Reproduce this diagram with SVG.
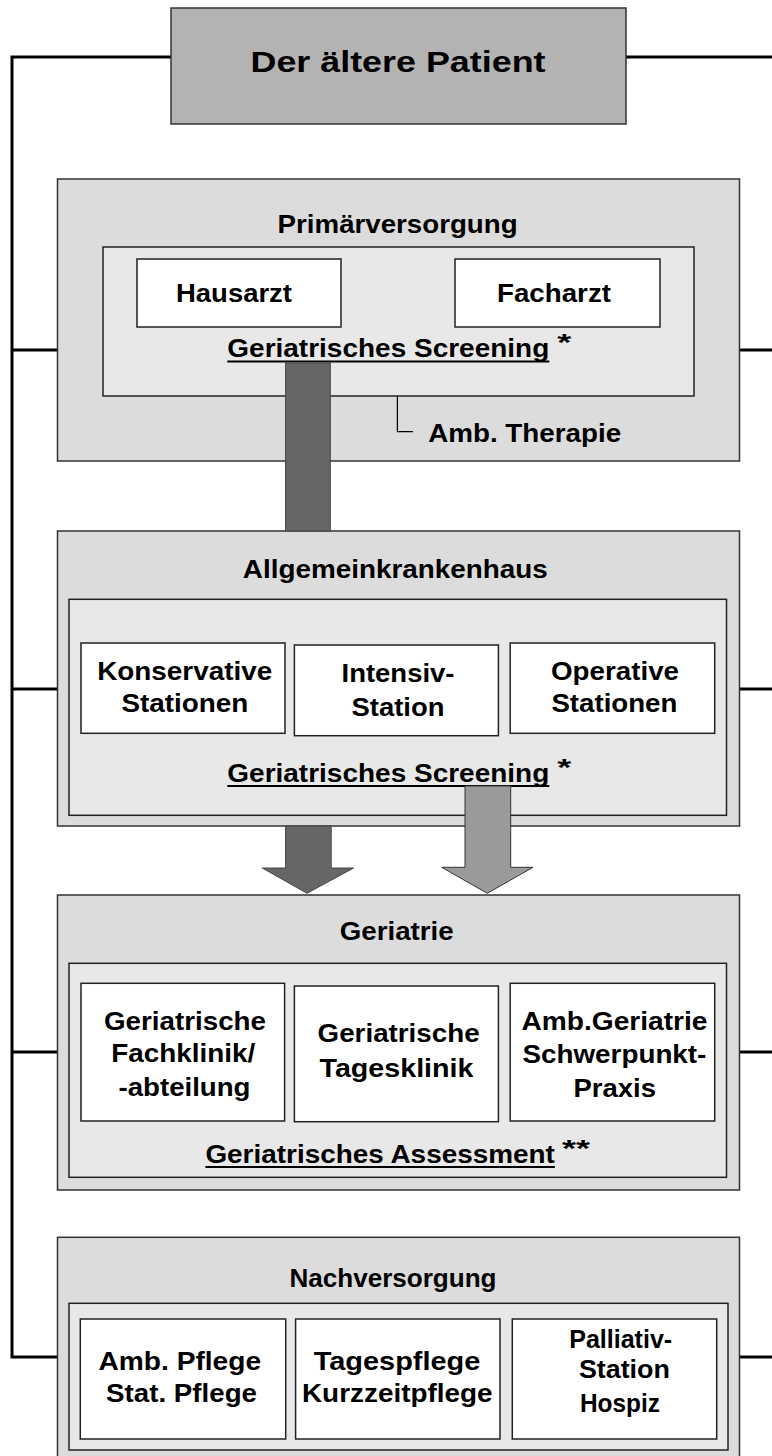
<svg xmlns="http://www.w3.org/2000/svg" width="772" height="1456" viewBox="0 0 772 1456">
<style>
.t{font-family:"Liberation Sans",Arial,sans-serif;font-weight:bold;font-size:26.5px;fill:#000;text-anchor:middle}
.s{text-anchor:start}
.ttl{font-size:30px}
.star{font-size:24px;text-anchor:start}
.top{fill:#b3b3b3;stroke:#333;stroke-width:1.5}
.outer{fill:#dcdcdc;stroke:#333;stroke-width:1.5}
.inner{fill:#e8e8e8;stroke:#222;stroke-width:1.5}
.cell{fill:#fff;stroke:#222;stroke-width:1.5}
.wire{fill:none;stroke:#000;stroke-width:3;stroke-linejoin:miter}
.thin{fill:none;stroke:#000;stroke-width:1.2}
.ul{stroke:#000;stroke-width:2}
.dark{fill:#666;stroke:#444;stroke-width:1}
.light{fill:#9a9a9a;stroke:#333;stroke-width:1}
</style>
<rect width="772" height="1456" fill="#fff"/>

<g id="connectors-lines">
<path class="wire" d="M171,57 H12 V1357 H57"/>
<path class="wire" d="M626,57 H772"/>
<path class="wire" d="M12,350 H57 M12,689 H57 M12,1052 H57"/>
<path class="wire" d="M739,350 H772 M739,689 H772 M739,1052 H772 M739,1357 H772"/>
</g>

<g id="patient">
<rect class="top" x="171" y="8" width="455" height="116"/>
<text class="t ttl" x="398" y="72" textLength="295" lengthAdjust="spacingAndGlyphs">Der ältere Patient</text>
</g>

<g id="primaerversorgung">
<rect class="outer" x="57.5" y="179" width="682" height="282"/>
<text class="t" x="397.6" y="233" textLength="240" lengthAdjust="spacingAndGlyphs">Primärversorgung</text>
<rect class="inner" x="103" y="247" width="591" height="149"/>
<g id="hausarzt">
<rect class="cell" x="137" y="259" width="204" height="68"/>
<text class="t" x="234" y="302" textLength="116" lengthAdjust="spacingAndGlyphs">Hausarzt</text>
</g>
<g id="facharzt">
<rect class="cell" x="455" y="259" width="205" height="68"/>
<text class="t" x="554" y="302" textLength="114" lengthAdjust="spacingAndGlyphs">Facharzt</text>
</g>
<text class="t s" x="227.3" y="357" textLength="322" lengthAdjust="spacingAndGlyphs">Geriatrisches Screening</text>
<line class="ul" x1="227.3" y1="361.5" x2="549.3" y2="361.5"/>
<text class="t star" x="557.3" y="351" textLength="14" lengthAdjust="spacingAndGlyphs">*</text>
<text class="t s" x="428.2" y="441.7" textLength="193" lengthAdjust="spacingAndGlyphs">Amb. Therapie</text>
</g>

<g id="allgemeinkrankenhaus">
<rect class="outer" x="57.5" y="531" width="682" height="295"/>
<text class="t" x="395.3" y="578.3" textLength="305" lengthAdjust="spacingAndGlyphs">Allgemeinkrankenhaus</text>
<rect class="inner" x="69" y="599.3" width="657.5" height="216"/>
<g id="konservative">
<rect class="cell" x="81" y="643" width="204" height="90.3"/>
<text class="t" x="184.7" y="680" textLength="175" lengthAdjust="spacingAndGlyphs">Konservative</text>
<text class="t" x="184.9" y="711.7" textLength="127" lengthAdjust="spacingAndGlyphs">Stationen</text>
</g>
<g id="intensiv">
<rect class="cell" x="294.4" y="645" width="204" height="90.7"/>
<text class="t" x="398" y="682.3" textLength="113" lengthAdjust="spacingAndGlyphs">Intensiv-</text>
<text class="t" x="398" y="716" textLength="93" lengthAdjust="spacingAndGlyphs">Station</text>
</g>
<g id="operative">
<rect class="cell" x="510.2" y="643" width="204.5" height="90.3"/>
<text class="t" x="615" y="680" textLength="128" lengthAdjust="spacingAndGlyphs">Operative</text>
<text class="t" x="614.4" y="711.7" textLength="126" lengthAdjust="spacingAndGlyphs">Stationen</text>
</g>
<text class="t s" x="227.3" y="781.7" textLength="322" lengthAdjust="spacingAndGlyphs">Geriatrisches Screening</text>
<line class="ul" x1="227.3" y1="786" x2="549.3" y2="786"/>
<text class="t star" x="557.3" y="776" textLength="14" lengthAdjust="spacingAndGlyphs">*</text>
</g>

<g id="geriatrie">
<rect class="outer" x="57.5" y="895" width="682" height="295"/>
<text class="t" x="396.7" y="940" textLength="114" lengthAdjust="spacingAndGlyphs">Geriatrie</text>
<rect class="inner" x="69" y="963.3" width="657.5" height="214"/>
<g id="fachklinik">
<rect class="cell" x="81" y="983.3" width="203.6" height="137.7"/>
<text class="t" x="185" y="1030" textLength="162" lengthAdjust="spacingAndGlyphs">Geriatrische</text>
<text class="t" x="183.3" y="1062" textLength="144" lengthAdjust="spacingAndGlyphs">Fachklinik/</text>
<text class="t" x="184.5" y="1096" textLength="132" lengthAdjust="spacingAndGlyphs">-abteilung</text>
</g>
<g id="tagesklinik">
<rect class="cell" x="294.4" y="986" width="204" height="135.7"/>
<text class="t" x="398.6" y="1042.3" textLength="162" lengthAdjust="spacingAndGlyphs">Geriatrische</text>
<text class="t" x="396.5" y="1076.7" textLength="154" lengthAdjust="spacingAndGlyphs">Tagesklinik</text>
</g>
<g id="schwerpunktpraxis">
<rect class="cell" x="510.2" y="983.3" width="204.5" height="137.7"/>
<text class="t" x="614.5" y="1030" textLength="186" lengthAdjust="spacingAndGlyphs">Amb.Geriatrie</text>
<text class="t" x="614.4" y="1063.3" textLength="184" lengthAdjust="spacingAndGlyphs">Schwerpunkt-</text>
<text class="t" x="614.8" y="1096.7" textLength="82.5" lengthAdjust="spacingAndGlyphs">Praxis</text>
</g>
<text class="t s" x="205.4" y="1163" textLength="349.5" lengthAdjust="spacingAndGlyphs">Geriatrisches Assessment</text>
<line class="ul" x1="205.4" y1="1167" x2="554.9" y2="1167"/>
<text class="t star" x="562" y="1157" textLength="28" lengthAdjust="spacingAndGlyphs">**</text>
</g>

<g id="nachversorgung">
<rect class="outer" x="57.5" y="1237.3" width="682" height="230"/>
<text class="t" x="393" y="1287" textLength="207" lengthAdjust="spacingAndGlyphs">Nachversorgung</text>
<rect class="inner" x="69" y="1303.3" width="659" height="146.7"/>
<g id="pflege">
<rect class="cell" x="80.3" y="1319" width="205.4" height="120"/>
<text class="t" x="179.8" y="1370" textLength="162.5" lengthAdjust="spacingAndGlyphs">Amb. Pflege</text>
<text class="t" x="181.5" y="1401.7" textLength="151" lengthAdjust="spacingAndGlyphs">Stat. Pflege</text>
</g>
<g id="tagespflege">
<rect class="cell" x="295.6" y="1319" width="204.4" height="120"/>
<text class="t" x="397" y="1370" textLength="166.5" lengthAdjust="spacingAndGlyphs">Tagespflege</text>
<text class="t" x="397.3" y="1401.7" textLength="190.6" lengthAdjust="spacingAndGlyphs">Kurzzeitpflege</text>
</g>
<g id="palliativ">
<rect class="cell" x="512.3" y="1319" width="204.4" height="120"/>
<text class="t" x="620.7" y="1348.3" textLength="103" lengthAdjust="spacingAndGlyphs">Palliativ-</text>
<text class="t" x="624.4" y="1378" textLength="91" lengthAdjust="spacingAndGlyphs">Station</text>
<text class="t" x="620" y="1411.7" textLength="80" lengthAdjust="spacingAndGlyphs">Hospiz</text>
</g>
</g>

<g id="connectors">
<path class="thin" d="M397.4,396 V431.7 H413"/>
<rect class="dark" x="285.6" y="363" width="44.7" height="168"/>
<polygon class="dark" points="285.6,826 331.2,826 331.2,868 353.6,868 307,893.3 262.3,868 285.6,868"/>
<polygon class="light" points="465,786 510.7,786 510.7,867.3 533,867.3 487.3,893.3 441.7,867.3 465,867.3"/>
</g>
</svg>
